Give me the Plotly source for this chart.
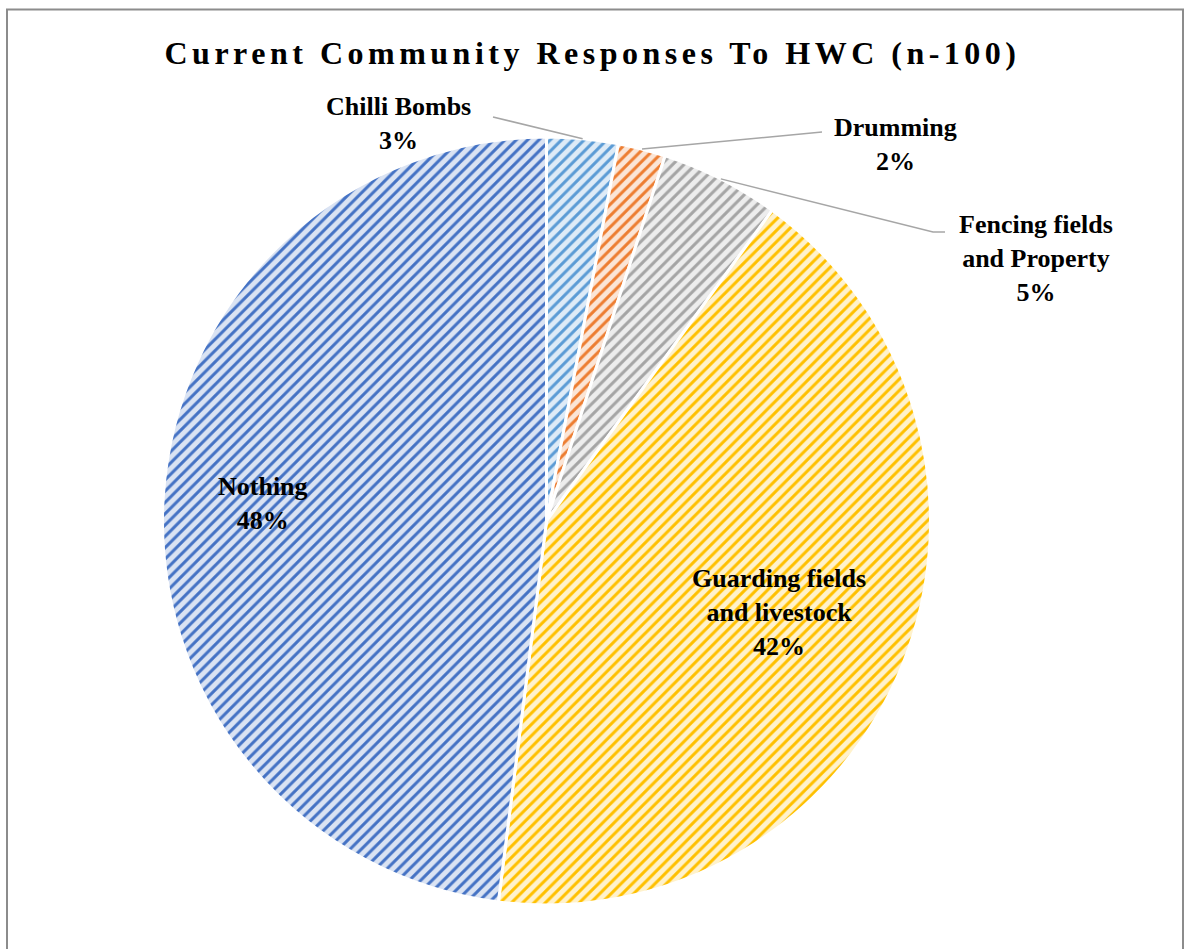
import math
import plotly.graph_objects as go

# Survey responses (percent of respondents, n = 100)
labels = ["Chilli Bombs", "Drumming", "Fencing fields and Property",
          "Guarding fields and livestock", "Nothing"]
values = [3, 2, 5, 42, 48]
label_lines = [["Chilli Bombs"], ["Drumming"], ["Fencing fields", "and Property"],
               ["Guarding fields", "and livestock"], ["Nothing"]]

fg_colors = ["#5b9bd5", "#ed7d31", "#a5a5a5", "#ffc000", "#4472c4"]
bg_colors = ["#deebf7", "#fbe5d6", "#ededed", "#fff2cc", "#dae3f3"]

W, H = 1185, 949
CX, CY, R = 546.5, 521.0, 384.0   # pie centre / radius in px


def px(x, y):
    return x / W, 1 - y / H


x0, y1 = px(CX - R, CY - R)
x1, y0 = px(CX + R, CY + R)

fig = go.Figure(go.Pie(
    labels=labels,
    values=values,
    sort=False,
    direction="clockwise",
    rotation=0,
    textinfo="none",
    hoverinfo="label+percent",
    domain=dict(x=[x0, x1], y=[y0, y1]),
    marker=dict(
        colors=bg_colors,
        line=dict(color="white", width=3),
        pattern=dict(shape="/", fgcolor=fg_colors, bgcolor=bg_colors,
                     size=8, solidity=0.38),
    ),
    showlegend=False,
))

# mid-angle of each slice (degrees clockwise from 12 o'clock)
total = sum(values)
mid_angles = []
acc = 0
for v in values:
    mid_angles.append((acc + v / 2) / total * 360)
    acc += v


def on_circle(angle, k):
    a = math.radians(angle)
    return CX + k * R * math.sin(a), CY - k * R * math.cos(a)


label_font = dict(family="Liberation Serif, Times New Roman, serif", size=26,
                  color="black", weight="bold")
annotations = []
shapes = []

# inside labels for the two large slices
inside = {3: 0.65, 4: 0.74}
for i, k in inside.items():
    lx, ly = on_circle(mid_angles[i], k)
    xp, yp = px(lx, ly)
    annotations.append(dict(
        x=xp, y=yp, xref="paper", yref="paper", showarrow=False,
        text="<br>".join(label_lines[i] + [f"{values[i]}%"]),
        font=label_font, align="center", xanchor="center", yanchor="middle"))

# outside labels with leader lines: (label centre, leader end points)
outside = {
    0: dict(pos=(398, 124), leader=[(493, 117)]),
    1: dict(pos=(895, 144), leader=[(822, 132)]),
    2: dict(pos=(1036, 258), leader=[(933, 232), (945, 232)]),
}
for i, spec in outside.items():
    lx, ly = spec["pos"]
    xp, yp = px(lx, ly)
    annotations.append(dict(
        x=xp, y=yp, xref="paper", yref="paper", showarrow=False,
        text="<br>".join(label_lines[i] + [f"{values[i]}%"]),
        font=label_font, align="center", xanchor="center", yanchor="middle"))
    pts = [on_circle(mid_angles[i], 1.0)] + spec["leader"]
    path = "M " + " L ".join(f"{px(x, y)[0]},{px(x, y)[1]}" for x, y in pts)
    shapes.append(dict(type="path", path=path, xref="paper", yref="paper",
                       line=dict(color="#a6a6a6", width=1.5)))

# chart area frame (open at the bottom edge)
shapes.append(dict(type="rect", xref="paper", yref="paper",
                   x0=7 / W, x1=1183 / W, y0=-0.05, y1=1 - 9.5 / H,
                   line=dict(color="#8c8c8c", width=2), fillcolor="rgba(0,0,0,0)"))

fig.update_layout(
    width=W, height=H,
    margin=dict(l=0, r=0, t=0, b=0),
    paper_bgcolor="white",
    plot_bgcolor="white",
    title=dict(text="Current Community Responses To HWC (n-100)",
               x=0.5, xanchor="center", y=1 - 53 / H, yanchor="middle",
               font=dict(family="Liberation Serif, Times New Roman, serif",
                         size=32, color="black", weight="bold")),
    annotations=annotations,
    shapes=shapes,
)

# widen the tracking of the title text
post = """
var gd = document.getElementById('{plot_id}');
var t = gd.querySelector('.gtitle');
if (t) { t.setAttribute('letter-spacing', '4.5px'); t.style.letterSpacing = '4.5px'; }
"""

fig.write_html("out.html", post_script=post)
